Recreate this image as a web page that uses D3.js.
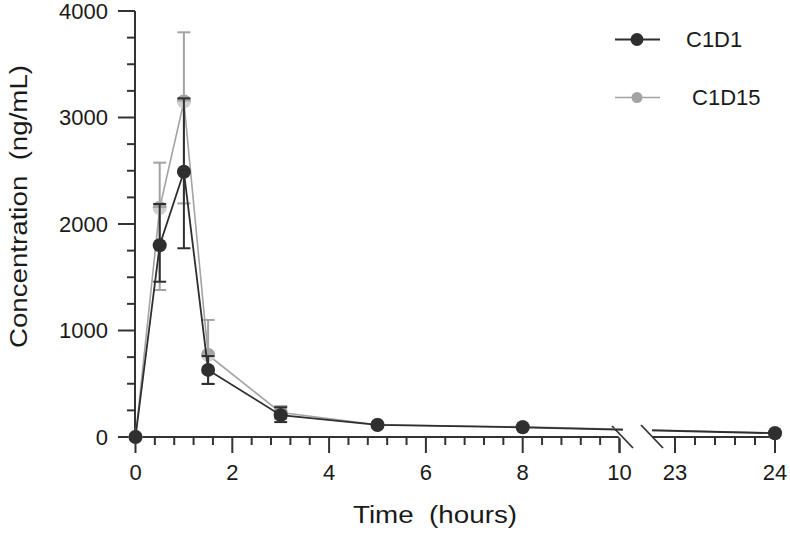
<!DOCTYPE html>
<html><head><meta charset="utf-8">
<script src="https://cdn.jsdelivr.net/npm/d3@7"></script>
<style>html,body{margin:0;padding:0;background:#fff;} svg{display:block;}</style>
</head><body>
<svg id="chart" width="790" height="537"></svg>
<script>
// ---- data ----
const times   = [0, 0.5, 1, 1.5, 3, 5, 8, 24];
const c1d1    = [0, 1800, 2490, 630, 205, 113, 91, 35];
const c1d1Lo  = [0, 1458, 1772, 498, 140, 113, 91, 35];
const c1d1Hi  = [0, 2188, 3180, 760, 279, 113, 91, 35];
const c1d15   = [0, 2150, 3150, 770, 230, 115, 95, 38];
const c1d15Lo = [0, 1380, 2193, 500, 170, 115, 95, 38];
const c1d15Hi = [0, 2576, 3800, 1099, 290, 115, 95, 38];
const seriesNames = ["C1D1", " C1D15"];
const yTicks = [0, 1000, 2000, 3000, 4000];
const xTicksLeft = [0, 2, 4, 6, 8, 10];
const xTicksRight = [23, 24];

const svg = d3.select("#chart");
const FONT = "'Liberation Sans', Arial, sans-serif";
const DARK = "#2f2f2f", GRAY = "#a3a3a3", AX = "#333";

const y = d3.scaleLinear().domain([0, 4000]).range([437, 11]);
const xL = d3.scaleLinear().domain([0, 10]).range([135.5, 619.5]);
const xR = d3.scaleLinear().domain([23, 24]).range([675, 775]);
const xPos = t => t <= 10 ? xL(t) : xR(t);

// ---- axes ----
const ax = svg.append("g").attr("stroke", AX).attr("stroke-width", 2).attr("fill", "none");
ax.append("line").attr("x1", 135).attr("x2", 135).attr("y1", y(4000)).attr("y2", y(0));
ax.append("line").attr("x1", 135).attr("x2", 623).attr("y1", 437).attr("y2", 437);
ax.append("line").attr("x1", 652).attr("x2", 775).attr("y1", 437).attr("y2", 437);
// y ticks
d3.range(0, 4001, 250).forEach(v => {
  const major = v % 1000 === 0;
  ax.append("line").attr("x1", major ? 118 : 127).attr("x2", 135).attr("y1", y(v)).attr("y2", y(v));
});
// x ticks left
d3.range(0, 10.01, 0.4).forEach(v => {
  const vv = Math.round(v * 10) / 10;
  const major = Math.abs(vv / 2 - Math.round(vv / 2)) < 1e-6;
  ax.append("line").attr("x1", xL(vv)).attr("x2", xL(vv)).attr("y1", 437).attr("y2", major ? 453 : 445);
});
ax.append("line").attr("x1", xL(10)).attr("x2", xL(10)).attr("y1", 437).attr("y2", 453);
// x ticks right
d3.range(23, 24.01, 0.2).forEach(v => {
  const vv = Math.round(v * 10) / 10;
  const major = Math.abs(vv - Math.round(vv)) < 1e-6;
  ax.append("line").attr("x1", xR(vv)).attr("x2", xR(vv)).attr("y1", 437).attr("y2", major ? 453 : 445);
});
// break marks
ax.append("line").attr("x1", 612).attr("y1", 426).attr("x2", 633).attr("y2", 448).attr("stroke", "#fff").attr("stroke-width", 5);
ax.append("line").attr("x1", 612).attr("y1", 426).attr("x2", 633).attr("y2", 448).attr("stroke-width", 1.8);
ax.append("line").attr("x1", 641).attr("y1", 425).attr("x2", 663).attr("y2", 448).attr("stroke-width", 1.8);

// tick labels
const tl = svg.append("g").attr("font-family", FONT).attr("font-size", 22).attr("fill", "#1a1a1a");
yTicks.forEach(v => {
  tl.append("text").attr("x", 108).attr("y", y(v)).attr("dy", "0.36em").attr("text-anchor", "end").text(v);
});
xTicksLeft.forEach(v => {
  tl.append("text").attr("x", xL(v)).attr("y", 480).attr("text-anchor", "middle").text(v);
});
xTicksRight.forEach(v => {
  tl.append("text").attr("x", xR(v)).attr("y", 480).attr("text-anchor", "middle").text(v);
});

// axis titles
svg.append("text").attr("font-family", FONT).attr("font-size", 23).attr("fill", "#1a1a1a")
  .attr("x", 353).attr("y", 523).attr("textLength", 164).attr("lengthAdjust", "spacingAndGlyphs")
  .attr("xml:space", "preserve").style("white-space", "pre").text("Time  (hours)");
svg.append("text").attr("font-family", FONT).attr("font-size", 23).attr("fill", "#1a1a1a")
  .attr("transform", "translate(27,348) rotate(-90)")
  .attr("textLength", 283).attr("lengthAdjust", "spacingAndGlyphs")
  .style("white-space", "pre").text("Concentration  (ng/mL)");

// ---- clip for the axis break ----
const defs = svg.append("defs");
const cp = defs.append("clipPath").attr("id", "brk");
cp.append("rect").attr("x", 0).attr("y", 0).attr("width", 623).attr("height", 537);
cp.append("rect").attr("x", 652).attr("y", 0).attr("width", 138).attr("height", 537);

function series(vals, lo, hi, color, lw, half) {
  const pts = times.map((t, i) => ({t, v: vals[i], lo: lo[i], hi: hi[i]}));
  const g = svg.append("g");
  g.append("path").datum(pts).attr("clip-path", "url(#brk)")
    .attr("fill", "none").attr("stroke", color).attr("stroke-width", lw)
    .attr("d", d3.line().x(d => xPos(d.t)).y(d => y(d.v)));
  const eb = g.append("g").attr("stroke", color).attr("stroke-width", 2);
  pts.forEach(d => {
    if (d.hi > d.v || d.lo < d.v) {
      const cx = xPos(d.t);
      eb.append("line").attr("x1", cx).attr("x2", cx).attr("y1", y(d.hi)).attr("y2", y(d.lo));
      if (d.hi > d.v) eb.append("line").attr("x1", cx - 6.5).attr("x2", cx + 6.5).attr("y1", y(d.hi)).attr("y2", y(d.hi));
      if (d.lo < d.v) eb.append("line").attr("x1", cx - 6.5).attr("x2", cx + 6.5).attr("y1", y(d.lo)).attr("y2", y(d.lo));
    }
  });
  pts.forEach(d => {
    const cx = xPos(d.t), cy = y(d.v);
    if (half) {
      g.append("circle").attr("cx", cx).attr("cy", cy).attr("r", 7).attr("fill", "#cfcfcf");
      g.append("path").attr("fill", color)
        .attr("d", `M${cx - 7},${cy} A7,7 0 0 1 ${cx + 7},${cy} Z`);
    } else {
      g.append("circle").attr("cx", cx).attr("cy", cy).attr("r", 7).attr("fill", color);
    }
  });
}
series(c1d15, c1d15Lo, c1d15Hi, GRAY, 1.6, true);
series(c1d1, c1d1Lo, c1d1Hi, DARK, 1.8, false);

// ---- legend ----
const lg = svg.append("g").attr("font-family", FONT).attr("font-size", 22).attr("fill", "#1a1a1a");
[[DARK, 39.5, 6.5, 2], [GRAY, 97.5, 5.5, 1.6]].forEach((s, i) => {
  lg.append("line").attr("x1", 615).attr("x2", 660).attr("y1", s[1]).attr("y2", s[1])
    .attr("stroke", s[0]).attr("stroke-width", s[3]);
  lg.append("circle").attr("cx", 637).attr("cy", s[1]).attr("r", s[2]).attr("fill", s[0]);
  lg.append("text").attr("x", 686).attr("y", s[1]).attr("dy", "0.36em")
    .style("white-space", "pre").text(seriesNames[i]);
});
</script>
</body></html>
